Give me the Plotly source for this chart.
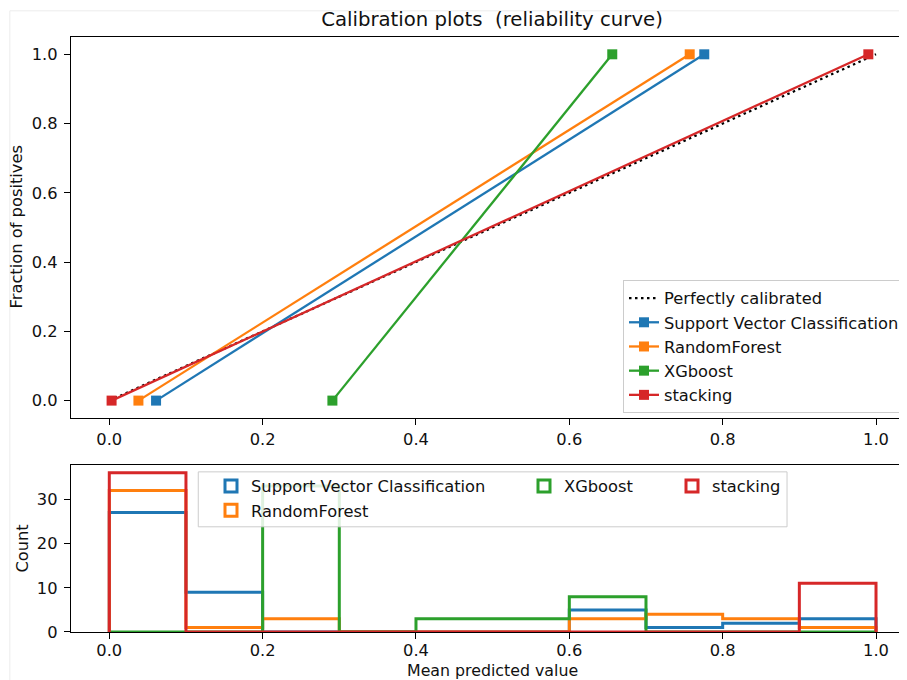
import plotly.graph_objects as go

# ---------------- data ----------------
models = ["Support Vector Classification", "RandomForest", "XGboost", "stacking"]
colors = ["#1f77b4", "#ff7f0e", "#2ca02c", "#d62728"]

perfect_x = [0.0, 1.0]
perfect_y = [0.0, 1.0]

# calibration curves: mean predicted value / fraction of positives
svc_pred = [0.061, 0.776]
svc_frac = [0.0, 1.0]
rf_pred = [0.038, 0.757]
rf_frac = [0.0, 1.0]
xgb_pred = [0.291, 0.656]
xgb_frac = [0.0, 1.0]
stack_pred = [0.003, 0.990]
stack_frac = [0.0, 1.0]

# histogram of predicted values (10 bins)
bin_edges = [0.0, 0.1, 0.2, 0.3, 0.4, 0.5, 0.6, 0.7, 0.8, 0.9, 1.0]
svc_counts = [27, 9, 0, 0, 0, 0, 5, 1, 2, 3]
rf_counts = [32, 1, 3, 0, 0, 0, 3, 4, 3, 1]
xgb_counts = [0, 0, 33, 0, 3, 3, 8, 0, 0, 0]
stack_counts = [36, 0, 0, 0, 0, 0, 0, 0, 0, 11]

prob_ticks = [0.0, 0.2, 0.4, 0.6, 0.8, 1.0]
prob_tick_text = ["0.0", "0.2", "0.4", "0.6", "0.8", "1.0"]
count_ticks = [0, 10, 20, 30]
count_tick_text = ["0", "10", "20", "30"]

curves = [(svc_pred, svc_frac), (rf_pred, rf_frac), (xgb_pred, xgb_frac), (stack_pred, stack_frac)]
hists = [svc_counts, rf_counts, xgb_counts, stack_counts]

# ---------------- layout geometry ----------------
# the page puts the figure 8px in from the top-left corner of the window,
# so window pixel positions are converted with that offset.
OFF = 8
W, H = 907 - OFF, 680 - OFF
ML, MR, MT, MB = 70.7 - OFF, 0, 36.7 - OFF, H - (632.3 - OFF)
PW, PH = W - ML - MR, H - MT - MB


def px(p):  # window pixel x -> paper fraction
    return (p - OFF - ML) / PW


def py(p):  # window pixel y -> paper fraction
    return (H - MB - (p - OFF)) / PH


def pyc(p):  # clamped for domains
    return min(1.0, max(0.0, py(p)))


def cx(p):  # window pixel x -> container fraction
    return (p - OFF) / W


def cy(p):
    return 1 - (p - OFF) / H


FONT = "DejaVu Sans"
TXT = "#111111"
FS = 16.3

fig = go.Figure()

# top: calibration curves
fig.add_trace(go.Scatter(
    x=perfect_x, y=perfect_y, mode="lines", name="Perfectly calibrated",
    line=dict(color="black", width=2.2, dash="2.5px,3.5px"),
    xaxis="x", yaxis="y", legend="legend"))
for name, col, (pv, fv) in zip(models, colors, curves):
    fig.add_trace(go.Scatter(
        x=pv, y=fv, mode="lines+markers", name=name,
        line=dict(color=col, width=2.3),
        marker=dict(symbol="square", size=10, color=col),
        xaxis="x", yaxis="y", legend="legend"))

# bottom: step histograms
for name, col, cnt in zip(models, colors, hists):
    xs = [bin_edges[0]] + bin_edges
    ys = [0] + cnt + [0]
    fig.add_trace(go.Scatter(
        x=xs, y=ys, mode="lines", line=dict(color=col, width=3, shape="hv"),
        showlegend=False, xaxis="x2", yaxis="y2", name=name))

# legend handles for histograms (outlined boxes)
legend_of = {"Support Vector Classification": "legend2", "RandomForest": "legend2",
             "XGboost": "legend3", "stacking": "legend4"}
for name, col in zip(models, colors):
    fig.add_trace(go.Bar(
        x=[None], y=[None], name=name, xaxis="x2", yaxis="y2",
        marker=dict(color="rgba(255,255,255,0)", line=dict(color=col, width=3)),
        legend=legend_of[name], showlegend=True, hoverinfo="skip"))

axis_common = dict(
    showgrid=False, zeroline=False, showline=True, linecolor="black", linewidth=1.3,
    ticks="outside", ticklen=6, tickwidth=1.2, tickcolor="black", automargin=False,
    tickfont=dict(family=FONT, size=FS, color=TXT),
)

x_range = [(70.7 - 109) / 767, (907 - 109) / 767]

small_legend = dict(xref="container", yref="container", xanchor="left",
                    y=cy(469), yanchor="top", bgcolor="rgba(0,0,0,0)", borderwidth=0,
                    font=dict(family=FONT, size=FS, color=TXT))

fig.update_layout(
    template="none",
    width=W, height=H,
    margin=dict(l=ML, r=MR, t=MT, b=MB, pad=0, autoexpand=False),
    paper_bgcolor="white", plot_bgcolor="white",
    font=dict(family=FONT, size=FS, color=TXT),
    title=dict(text="Calibration plots\u00a0 (reliability curve)",
               x=cx(492), xref="container", xanchor="center",
               y=cy(19), yref="container", yanchor="middle",
               font=dict(family=FONT, size=19.7, color=TXT)),
    xaxis=dict(axis_common, domain=[0, 1], range=x_range, anchor="y", mirror=True,
               tickvals=prob_ticks, ticktext=prob_tick_text),
    yaxis=dict(axis_common, domain=[pyc(418), pyc(36.7)], range=[-0.05, 1.05], anchor="x",
               tickvals=prob_ticks, ticktext=prob_tick_text, ticklabelstandoff=3),
    xaxis2=dict(axis_common, domain=[0, 1], range=x_range, anchor="y2", mirror=True,
                tickvals=prob_ticks, ticktext=prob_tick_text, ticklabelstandoff=-3),
    yaxis2=dict(axis_common, domain=[pyc(632.3), pyc(465)], range=[0, 37.8], anchor="x2",
                tickvals=count_ticks, ticktext=count_tick_text, ticklabelstandoff=3),
    legend=dict(xref="container", yref="container", x=cx(905), xanchor="right",
                y=cy(280), yanchor="top", bgcolor="rgba(255,255,255,0.85)",
                bordercolor="#cccccc", borderwidth=1,
                font=dict(family=FONT, size=FS, color=TXT), tracegroupgap=0),
    legend2=dict(small_legend, x=cx(211)),
    legend3=dict(small_legend, x=cx(524)),
    legend4=dict(small_legend, x=cx(672)),
    showlegend=True,
    annotations=[
        dict(text="Fraction of positives", xref="paper", yref="paper",
             x=px(16), y=py(227), xanchor="center", yanchor="middle", textangle=-90,
             showarrow=False, font=dict(family=FONT, size=FS, color=TXT)),
        dict(text="Count", xref="paper", yref="paper",
             x=px(22), y=py(548.5), xanchor="center", yanchor="middle", textangle=-90,
             showarrow=False, font=dict(family=FONT, size=FS, color=TXT)),
        dict(text="Mean predicted value", xref="paper", yref="paper",
             x=px(492), y=py(660), xanchor="center", yanchor="top", borderpad=0,
             showarrow=False, font=dict(family=FONT, size=15.8, color=TXT)),
    ],
    shapes=[
        # frame behind the histogram legend
        dict(type="rect", xref="paper", yref="paper",
             x0=px(198), x1=px(787), y0=py(527), y1=py(472),
             line=dict(color="#cccccc", width=1), fillcolor="rgba(255,255,255,0.85)",
             layer="above"),
        # faint outer border of the original picture
        dict(type="rect", xref="paper", yref="paper",
             x0=px(9.5), x1=px(950), y0=py(720), y1=py(10.5),
             line=dict(color="#ececec", width=1), fillcolor="rgba(0,0,0,0)",
             layer="below"),
    ],
)

fig.write_html("out.html")
